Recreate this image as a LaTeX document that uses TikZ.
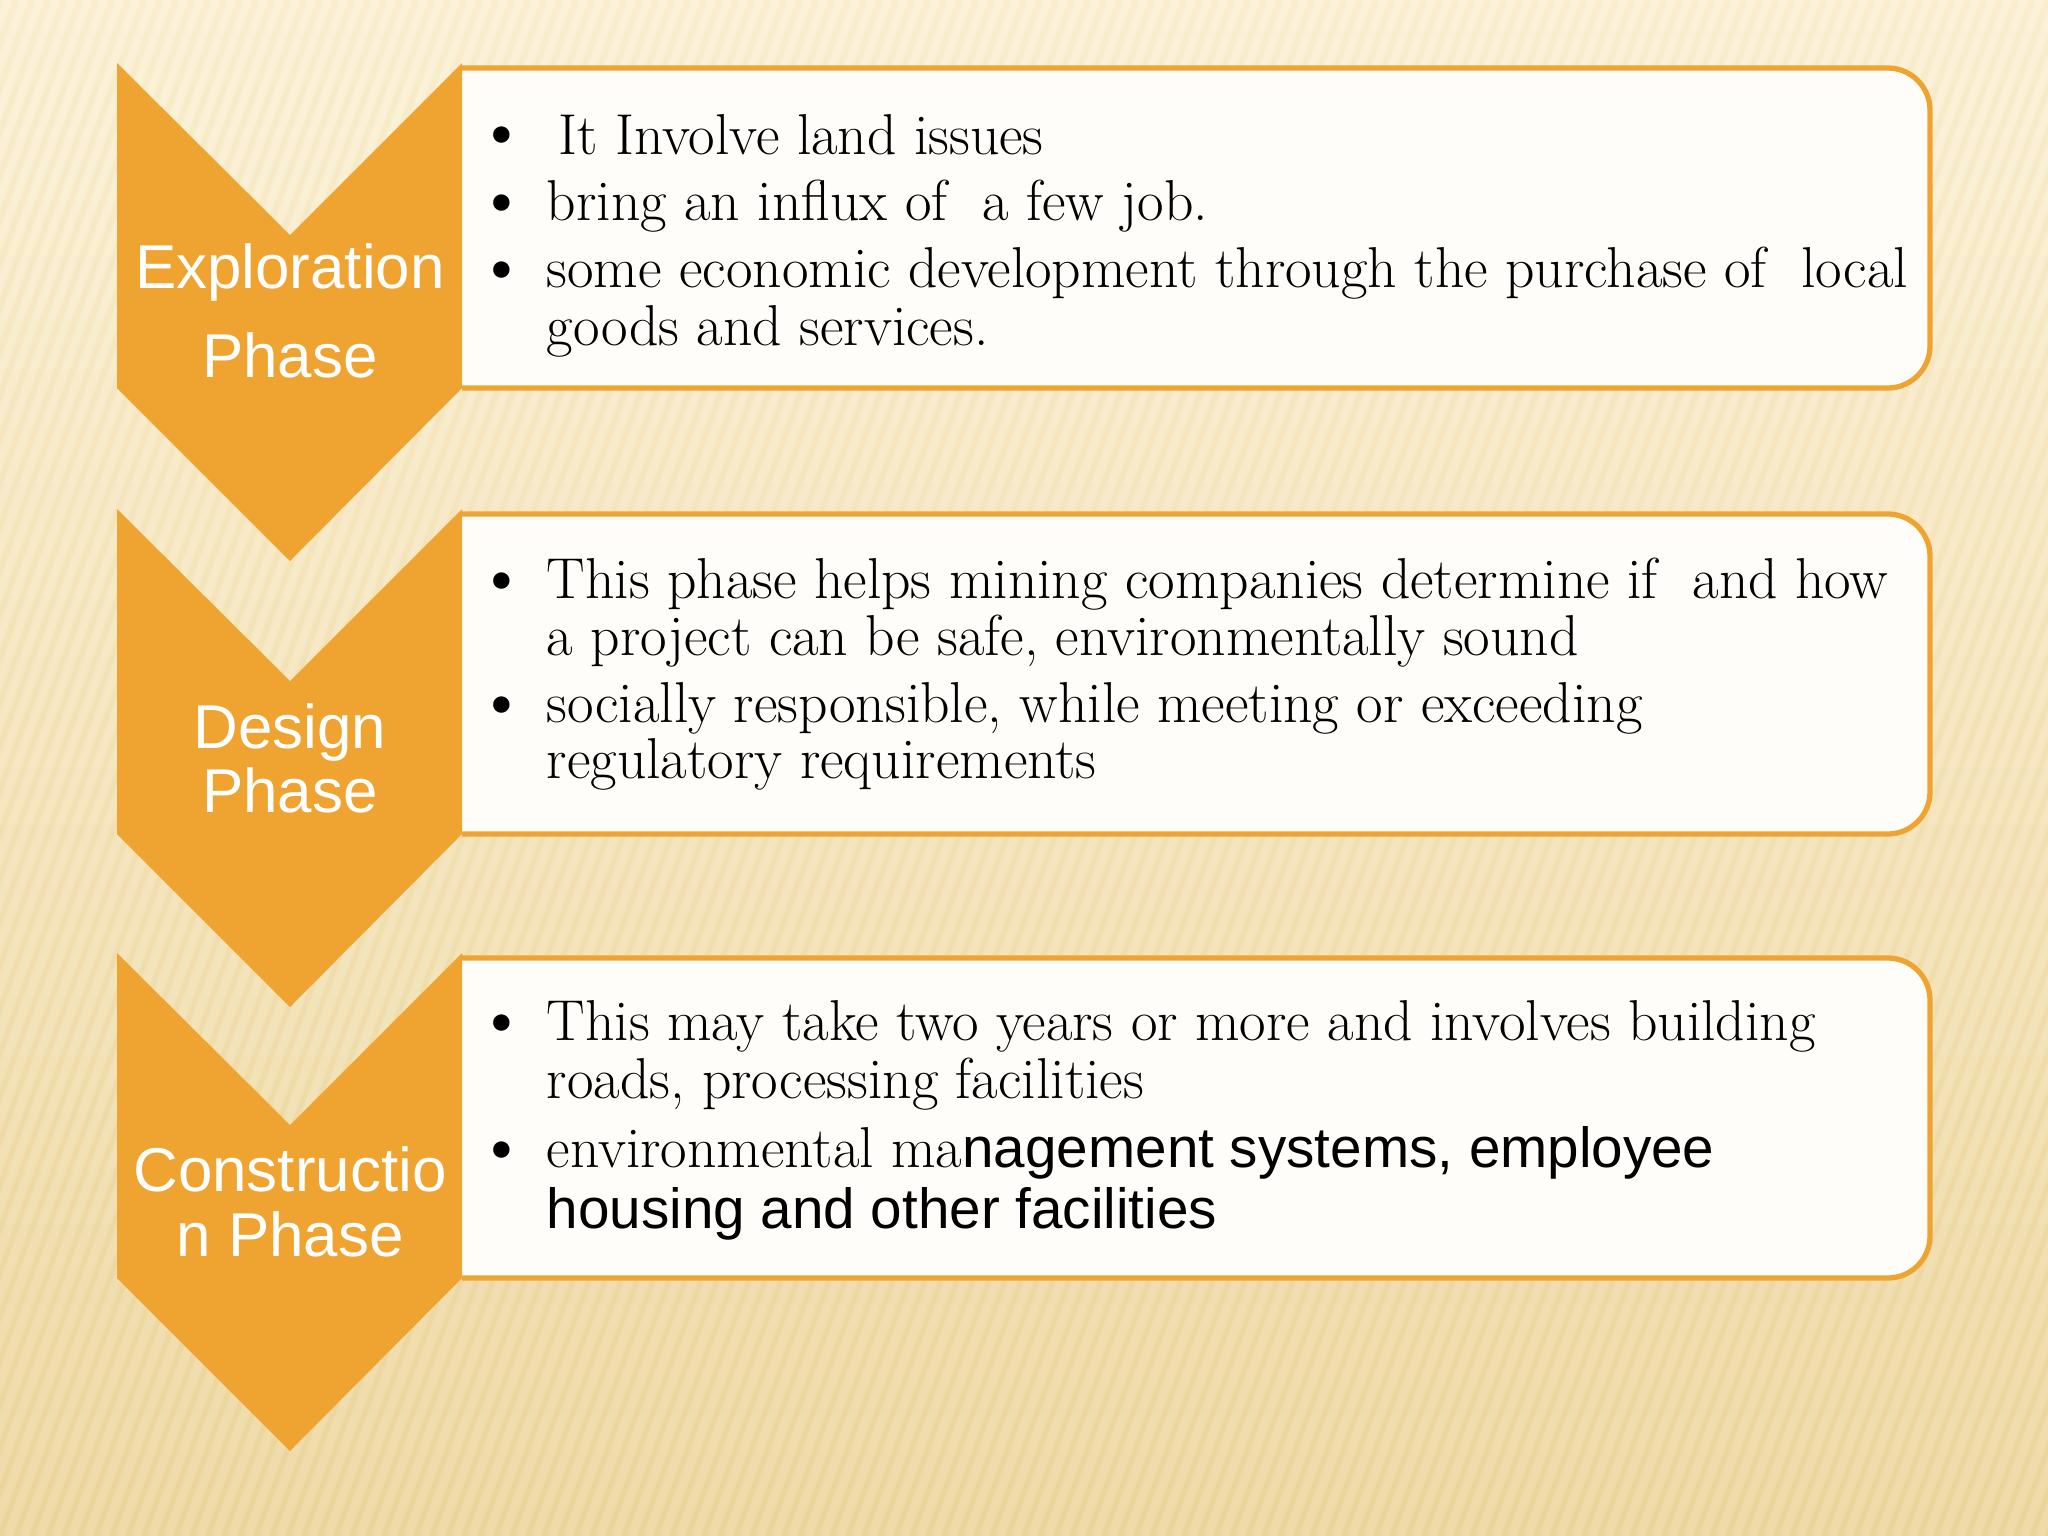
\documentclass[tikz,border=0pt]{standalone}
\usepackage{graphicx}
\usepackage{fontspec}
\newfontfamily\labelsans{Liberation Sans}
\usetikzlibrary{positioning}

\definecolor{chevorange}{RGB}{239,164,49}
\definecolor{boxfill}{RGB}{255,253,249}
\definecolor{bgtop}{RGB}{252,241,212}
\definecolor{bgmid}{RGB}{248,231,186}
\definecolor{bgbot}{RGB}{237,214,156}
\definecolor{stripedark}{RGB}{222,190,120}

\newcommand{\bigdot}{\scalebox{1.3}{\textbullet}}

\begin{document}
\begin{tikzpicture}[
    x=0.01cm, y=-0.01cm,
    chevron/.style={fill=chevorange, draw=none},
    textbox/.style={fill=boxfill, draw=chevorange, line width=1.5pt},
    phase/.style={anchor=base, inner sep=0pt, text=white, font=\labelsans\fontsize{17.6}{20}\selectfont},
    bulletmark/.style={anchor=base, inner sep=0pt, font=\fontsize{16}{18}\selectfont},
    itemline/.style={anchor=base west, inner sep=0pt, font=\fontsize{16.4}{19}\selectfont},
    sansline/.style={anchor=base west, inner sep=0pt, font=\labelsans\fontsize{16.1}{19}\selectfont}
]

% Background
\useasboundingbox (0,0) rectangle (2048,1536);
\shade[top color=bgtop, middle color=bgmid, bottom color=bgbot] (0,0) rectangle (2048,1536);
\begin{scope}
\clip (0,0) rectangle (2048,1536);
\foreach \s in {-600,-584,...,2100}
    \draw[white, opacity=0.13, line width=3pt] (\s,1536) -- (\s+560,0);
\foreach \s in {-592,-576,...,2108}
    \draw[stripedark, opacity=0.07, line width=2pt] (\s,1536) -- (\s+560,0);
\end{scope}

% Text boxes (left edge hidden under the chevrons)
\draw[textbox] (462,68) [rounded corners=12pt] -- (1930,68) -- (1930,388) -- (462,388);
\draw[textbox] (462,514) [rounded corners=12pt] -- (1930,514) -- (1930,834) -- (462,834);
\draw[textbox] (462,958) [rounded corners=12pt] -- (1930,958) -- (1930,1278) -- (462,1278);

% Chevrons
\fill[chevron] (117,63) -- (290,235) -- (462,63) -- (462,388) -- (290,561) -- (117,388) -- cycle;
\fill[chevron] (117,509) -- (290,681) -- (462,509) -- (462,834) -- (290,1007) -- (117,834) -- cycle;
\fill[chevron] (117,953) -- (290,1125) -- (462,953) -- (462,1278) -- (290,1451) -- (117,1278) -- cycle;

% Phase labels
\node[phase] (expl1) at (290,288) {Exploration};
\node[phase] (expl2) at (290,377) {Phase};
\node[phase] (design1) at (290,748) {Design};
\node[phase] (design2) at (290,812) {Phase};
\node[phase] (constr1) at (290,1191) {Constructio};
\node[phase] (constr2) at (290,1256) {n Phase};

% Exploration items
\node[bulletmark] (b1a) at (502,154) {\bigdot};
\node[itemline] (e1) at (558,154) {It Involve land issues};
\node[bulletmark] (b1b) at (502,222) {\bigdot};
\node[itemline] (e2) at (546,220) {bring an influx of\ \ a few job.};
\node[bulletmark] (b1c) at (502,289) {\bigdot};
\node[itemline] (e3) at (546,287) {some economic development through the purchase of\ \ local};
\node[itemline] (e4) at (546,345) {goods and services.};

% Design items
\node[bulletmark] (b2a) at (502,600) {\bigdot};
\node[itemline] (d1) at (546,598) {This phase helps mining companies determine if\ \ and how};
\node[itemline] (d2) at (546,655) {a project can be safe, environmentally sound};
\node[bulletmark] (b2b) at (502,724) {\bigdot};
\node[itemline] (d3) at (546,722) {socially responsible, while meeting or exceeding};
\node[itemline] (d4) at (546,778) {regulatory requirements};

% Construction items
\node[bulletmark] (b3a) at (502,1042) {\bigdot};
\node[itemline] (c1) at (546,1040) {This may take two years or more and involves building};
\node[itemline] (c2) at (546,1098) {roads, processing facilities};
\node[bulletmark] (b3b) at (502,1169) {\bigdot};
\node[itemline] (c3) at (546,1167) {environmental ma{\labelsans\fontsize{16.1}{19}\selectfont nagement systems, employee}};
\node[sansline] (c4) at (546,1228) {housing and other facilities};

\end{tikzpicture}
\end{document}
